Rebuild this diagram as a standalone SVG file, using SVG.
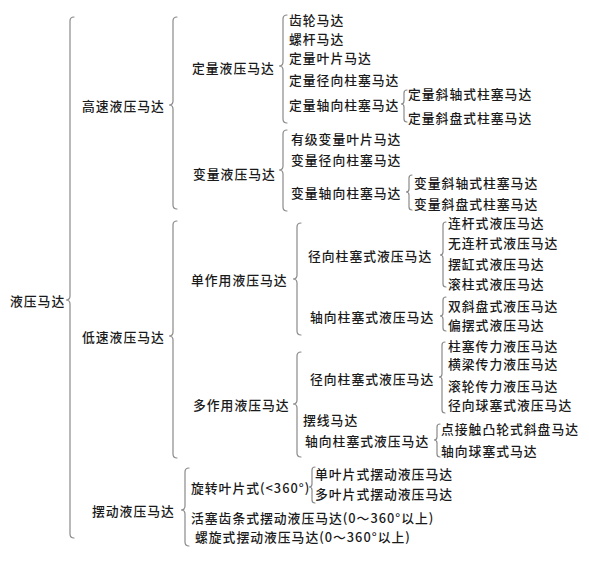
<svg xmlns="http://www.w3.org/2000/svg" width="589" height="563" viewBox="0 0 589 563">
<style>
text{font-family:"Noto Sans CJK SC","Noto Sans",sans-serif;font-size:12.8px;font-weight:500;fill:#1a1a1a;dominant-baseline:central;letter-spacing:1px}
.b{fill:none;stroke:#8a8a8a;stroke-width:1.2;stroke-linecap:round}
</style>
<rect width="589" height="563" fill="#fff"/>
<g id="connectors">
<path class="b" d="M74,17 Q70,17 70,21 L70,296 Q70,300 66,300 Q70,300 70,304 L70,534 Q70,538 74,538"/>
<path class="b" d="M177,17 Q173,17 173,21 L173,101 Q173,105 169,105 Q173,105 173,109 L173,205 Q173,209 177,209"/>
<path class="b" d="M177,221 Q173,221 173,225 L173,332 Q173,336 169,336 Q173,336 173,340 L173,454 Q173,458 177,458"/>
<path class="b" d="M189,468 Q185,468 185,472 L185,506 Q185,510 181,510 Q185,510 185,514 L185,542 Q185,546 189,546"/>
<path class="b" d="M287,15 Q283,15 283,19 L283,62 Q283,66 279,66 Q283,66 283,70 L283,119 Q283,123 287,123"/>
<path class="b" d="M287,130 Q283,130 283,134 L283,166 Q283,170 279,170 Q283,170 283,174 L283,207 Q283,211 287,211"/>
<path class="b" d="M407,90 Q404,90 404,93 L404,101 Q404,104 401,104 Q404,104 404,107 L404,119 Q404,122 407,122"/>
<path class="b" d="M412,175 Q409,175 409,178 L409,189 Q409,192 406,192 Q409,192 409,195 L409,207 Q409,210 412,210"/>
<path class="b" d="M301,223 Q297,223 297,227 L297,275 Q297,279 293,279 Q297,279 297,283 L297,331 Q297,335 301,335"/>
<path class="b" d="M301,352 Q297,352 297,356 L297,400 Q297,404 293,404 Q297,404 297,408 L297,453 Q297,457 301,457"/>
<path class="b" d="M446,222 Q443,222 443,225 L443,252 Q443,255 440,255 Q443,255 443,258 L443,284 Q443,287 446,287"/>
<path class="b" d="M446,297 Q443,297 443,300 L443,313 Q443,316 440,316 Q443,316 443,319 L443,328 Q443,331 446,331"/>
<path class="b" d="M445,342 Q442,342 442,345 L442,374 Q442,377 439,377 Q442,377 442,380 L442,410 Q442,413 445,413"/>
<path class="b" d="M440,424 Q437,424 437,427 L437,437 Q437,440 434,440 Q437,440 437,443 L437,454 Q437,457 440,457"/>
<path class="b" d="M315,467 Q312,467 312,470 L312,484 Q312,487 309,487 Q312,487 312,490 L312,500 Q312,503 315,503"/>
</g>
<g id="root"><text x="10" y="300">液压马达</text></g>
<g id="gaosu"><text x="82" y="105">高速液压马达</text></g>
<g id="disu"><text x="82" y="336">低速液压马达</text></g>
<g id="baidong"><text x="92" y="510">摆动液压马达</text></g>
<g id="dingliang"><text x="192" y="67">定量液压马达</text></g>
<g id="chilun"><text x="289" y="19">齿轮马达</text></g>
<g id="luogan"><text x="289" y="38">螺杆马达</text></g>
<g id="dl-yepian"><text x="289" y="57">定量叶片马达</text></g>
<g id="dl-jingxiang"><text x="289" y="79">定量径向柱塞马达</text></g>
<g id="dl-zhouxiang"><text x="289" y="104">定量轴向柱塞马达</text></g>
<g id="dl-xiezhou"><text x="408" y="93">定量斜轴式柱塞马达</text></g>
<g id="dl-xiepan"><text x="408" y="117">定量斜盘式柱塞马达</text></g>
<g id="bianliang"><text x="193" y="173">变量液压马达</text></g>
<g id="youji"><text x="291" y="138">有级变量叶片马达</text></g>
<g id="bl-jingxiang"><text x="291" y="159">变量径向柱塞马达</text></g>
<g id="bl-zhouxiang"><text x="291" y="192">变量轴向柱塞马达</text></g>
<g id="bl-xiezhou"><text x="414" y="182">变量斜轴式柱塞马达</text></g>
<g id="bl-xiepan"><text x="414" y="203">变量斜盘式柱塞马达</text></g>
<g id="danzuoyong"><text x="191" y="279">单作用液压马达</text></g>
<g id="dz-jingxiang"><text x="308" y="255">径向柱塞式液压马达</text></g>
<g id="liangan"><text x="448" y="222">连杆式液压马达</text></g>
<g id="wuliangan"><text x="448" y="242">无连杆式液压马达</text></g>
<g id="baigang"><text x="448" y="263">摆缸式液压马达</text></g>
<g id="gunzhu"><text x="448" y="283">滚柱式液压马达</text></g>
<g id="dz-zhouxiang"><text x="310" y="316">轴向柱塞式液压马达</text></g>
<g id="shuangxiepan"><text x="448" y="305">双斜盘式液压马达</text></g>
<g id="pianbai"><text x="448" y="324">偏摆式液压马达</text></g>
<g id="duozuoyong"><text x="193" y="404">多作用液压马达</text></g>
<g id="dz2-jingxiang"><text x="310" y="378">径向柱塞式液压马达</text></g>
<g id="zhusai-chuanli"><text x="448" y="345">柱塞传力液压马达</text></g>
<g id="hengliang"><text x="448" y="363">横梁传力液压马达</text></g>
<g id="gunlun"><text x="448" y="385">滚轮传力液压马达</text></g>
<g id="qiusai"><text x="448" y="404">径向球塞式液压马达</text></g>
<g id="baixian"><text x="303" y="419">摆线马达</text></g>
<g id="dz2-zhouxiang"><text x="305" y="440">轴向柱塞式液压马达</text></g>
<g id="dianjiechu"><text x="441" y="428">点接触凸轮式斜盘马达</text></g>
<g id="zhouxiang-qiusai"><text x="441" y="450">轴向球塞式马达</text></g>
<g id="xuanzhuan"><text x="191" y="487">旋转叶片式(&lt;360°)</text></g>
<g id="danyepian"><text x="315" y="473">单叶片式摆动液压马达</text></g>
<g id="duoyepian"><text x="315" y="493">多叶片式摆动液压马达</text></g>
<g id="huosai"><text x="191" y="517">活塞齿条式摆动液压马达(0～360°以上)</text></g>
<g id="luoxuan"><text x="195" y="536">螺旋式摆动液压马达(0～360°以上)</text></g>
</svg>
